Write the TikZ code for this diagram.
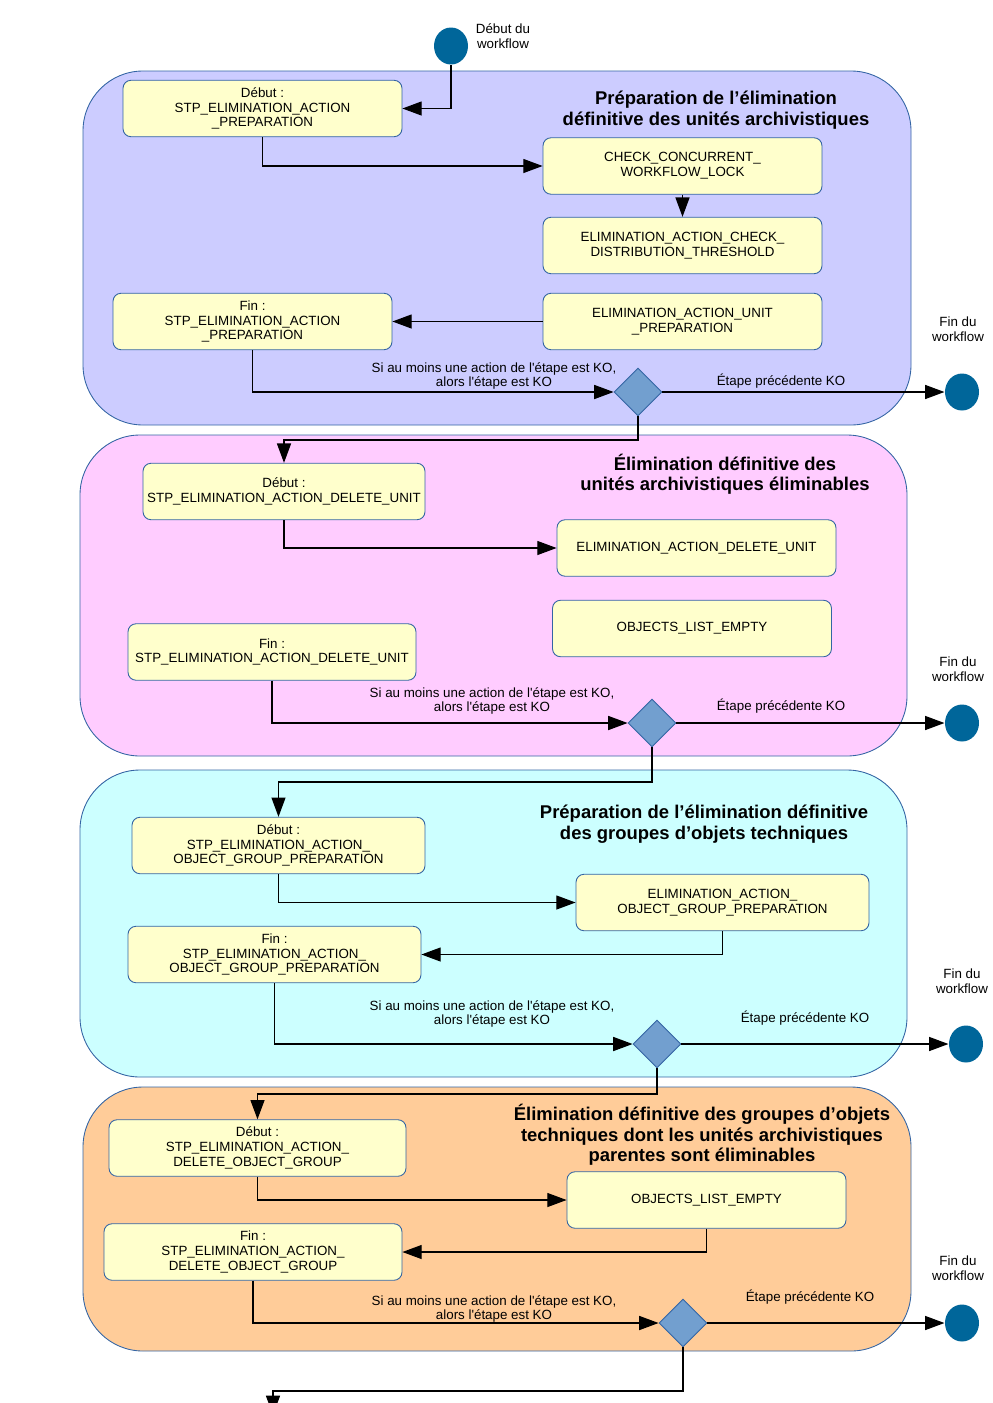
\documentclass[tikz,border=0pt]{standalone}
\usepackage{fontspec}
\setmainfont{Liberation Sans}
\usetikzlibrary{arrows.meta,shapes.geometric}
\definecolor{bordure}{HTML}{3465A4}
\definecolor{jaune}{HTML}{FFFFCC}
\definecolor{bleuclair}{HTML}{CCCCFF}
\definecolor{rose}{HTML}{FFCCFF}
\definecolor{cyan}{HTML}{CCFFFF}
\definecolor{orange}{HTML}{FFCC99}
\definecolor{rond}{HTML}{00669A}
\definecolor{losange}{HTML}{729FCF}
\newcommand{\fontetape}{\fontsize{7.6}{8.4}\selectfont}
\newcommand{\fonttitre}{\fontsize{10.5}{11.6}\selectfont\bfseries}
\begin{document}
\begin{tikzpicture}[x=0.02cm,y=-0.02cm,>={Triangle[length=11pt,width=8pt]},line width=0.65pt,
  etape/.style={draw=bordure,line width=0.5pt,fill=jaune,rounded corners=0.16cm,minimum width=#1,minimum height=1.13cm,align=center,font=\fontetape,inner sep=1pt},
  etape/.default=5.58cm,
  section/.style={draw=bordure,line width=0.5pt,rounded corners=1.2cm},
  titre/.style={align=center,font=\fonttitre},
  texte/.style={align=center,font=\fontetape,inner sep=1pt},
  rond/.style={ellipse,fill=rond,minimum width=0.68cm,minimum height=0.74cm,inner sep=0pt},
  choix/.style={diamond,draw=bordure,line width=0.5pt,fill=losange,minimum width=0.96cm,minimum height=0.96cm,inner sep=0pt}]
\useasboundingbox (0,0) rectangle (992,1403);
% sections
\draw [section,fill=bleuclair] (83,71) rectangle (911,425);
\draw [section,fill=rose] (80,435) rectangle (907,756);
\draw [section,fill=cyan] (80,770) rectangle (907,1077);
\draw [section,fill=orange] (83,1087) rectangle (911,1351);
\node (debut) at (451,46) [rond] {};
\node (ldebut) at (503,36) [texte] {Début du\\workflow};
% preparation des unites
\node (t1) at (716,110) [titre] {Préparation de l’élimination\\définitive des unités archivistiques};
\node (deb1) at (262.5,108.5) [etape] {Début :\\STP\_ELIMINATION\_ACTION\\\_PREPARATION};
\node (chk1) at (682.5,166) [etape] {CHECK\_CONCURRENT\_\\WORKFLOW\_LOCK};
\node (thr1) at (682.5,245.5) [etape] {ELIMINATION\_ACTION\_CHECK\_\\DISTRIBUTION\_THRESHOLD};
\node (unit1) at (682.5,321.5) [etape] {ELIMINATION\_ACTION\_UNIT\\\_PREPARATION};
\node (fin1) at (252.5,321.5) [etape] {Fin :\\STP\_ELIMINATION\_ACTION\\\_PREPARATION};
\node (ko1) at (494,376) [texte] {Si au moins une action de l\textquotesingle étape est KO,\\alors l\textquotesingle étape est KO};
\node (dia1) at (638,392) [choix] {};
\node (prec1) at (781,381) [texte] {Étape précédente KO};
\node (lfin1) at (958,329) [texte] {Fin du\\workflow};
\node (end1) at (962,392) [rond] {};
% suppression des unites
\node (t2) at (725,474) [titre] {Élimination définitive des\\unités archivistiques éliminables};
\node (deb2) at (284,491.5) [etape=5.64cm] {Début :\\STP\_ELIMINATION\_ACTION\_DELETE\_UNIT};
\node (del2) at (696.5,548) [etape] {ELIMINATION\_ACTION\_DELETE\_UNIT};
\node (obj2) at (692,628.5) [etape] {OBJECTS\_LIST\_EMPTY};
\node (fin2) at (272,652) [etape=5.76cm] {Fin :\\STP\_ELIMINATION\_ACTION\_DELETE\_UNIT};
\node (ko2) at (492,701) [texte] {Si au moins une action de l\textquotesingle étape est KO,\\alors l\textquotesingle étape est KO};
\node (dia2) at (652,723) [choix] {};
\node (prec2) at (781,706) [texte] {Étape précédente KO};
\node (lfin2) at (958,669) [texte] {Fin du\\workflow};
\node (end2) at (962,723) [rond] {};
% preparation des groupes d'objets
\node (t3) at (704,824) [titre] {Préparation de l’élimination définitive\\des groupes d’objets techniques};
\node (deb3) at (278.5,845.5) [etape=5.86cm] {Début :\\STP\_ELIMINATION\_ACTION\_\\OBJECT\_GROUP\_PREPARATION};
\node (ogp3) at (722.5,902.5) [etape=5.86cm] {ELIMINATION\_ACTION\_\\OBJECT\_GROUP\_PREPARATION};
\node (fin3) at (274.5,954.5) [etape=5.86cm] {Fin :\\STP\_ELIMINATION\_ACTION\_\\OBJECT\_GROUP\_PREPARATION};
\node (ko3) at (492,1014) [texte] {Si au moins une action de l\textquotesingle étape est KO,\\alors l\textquotesingle étape est KO};
\node (dia3) at (657,1044) [choix] {};
\node (prec3) at (805,1018) [texte] {Étape précédente KO};
\node (lfin3) at (962,981) [texte] {Fin du\\workflow};
\node (end3) at (966,1044) [rond] {};
% suppression des groupes d'objets
\node (t4) at (702,1135) [titre] {Élimination définitive des groupes d’objets\\techniques dont les unités archivistiques\\parentes sont éliminables};
\node (deb4) at (257.5,1148) [etape=5.94cm] {Début :\\STP\_ELIMINATION\_ACTION\_\\DELETE\_OBJECT\_GROUP};
\node (obj4) at (706.5,1200) [etape] {OBJECTS\_LIST\_EMPTY};
\node (fin4) at (253,1252) [etape=5.96cm] {Fin :\\STP\_ELIMINATION\_ACTION\_\\DELETE\_OBJECT\_GROUP};
\node (ko4) at (494,1309) [texte] {Si au moins une action de l\textquotesingle étape est KO,\\alors l\textquotesingle étape est KO};
\node (dia4) at (683,1323) [choix] {};
\node (prec4) at (810,1297) [texte] {Étape précédente KO};
\node (lfin4) at (958,1268) [texte] {Fin du\\workflow};
\node (end4) at (962,1323) [rond] {};
\coordinate (suite) at (273,1415);
% connecteurs
\draw [->] (debut) |- (deb1);
\draw [->] (deb1) |- (chk1);
\draw [->] (chk1) -- (thr1);
\draw [->] (unit1) -- (fin1);
\draw [->] (fin1) |- (dia1);
\draw [->] (dia1) -- (end1);
\draw [->] (dia1) -- ++(0,48) -| (deb2);
\draw [->] (deb2) |- (del2);
\draw [->] (fin2) |- (dia2);
\draw [->] (dia2) -- (end2);
\draw [->] (dia2) -- ++(0,59) -| (deb3);
\draw [->] (deb3) |- (ogp3);
\draw [->] (ogp3) |- (fin3);
\draw [->] (fin3) |- (dia3);
\draw [->] (dia3) -- (end3);
\draw [->] (dia3) -- ++(0,50) -| (deb4);
\draw [->] (deb4) |- (obj4);
\draw [->] (obj4) |- (fin4);
\draw [->] (fin4) |- (dia4);
\draw [->] (dia4) -- (end4);
\draw [->] (dia4) -- ++(0,68) -| (suite);
\end{tikzpicture}
\end{document}
